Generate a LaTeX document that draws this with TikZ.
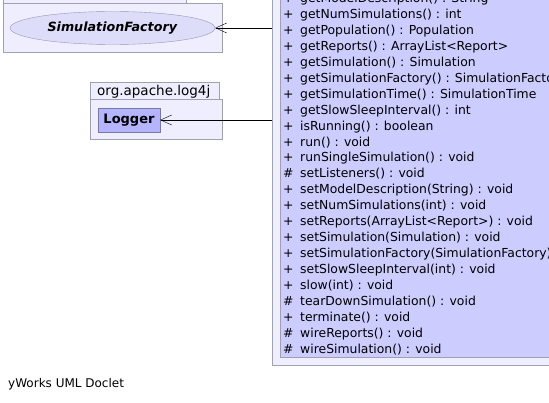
\documentclass[tikz,border=0pt]{standalone}
\usepackage{fontspec}
\setmainfont{DejaVu Sans}
\usetikzlibrary{
        arrows.meta,
        positioning,
        shapes.geometric
    }
\definecolor{pkgfill}{RGB}{238,238,255}
\definecolor{pkgline}{RGB}{160,160,176}
\definecolor{classfill}{RGB}{204,204,255}
\definecolor{ellfill}{RGB}{221,221,250}
\definecolor{ellline}{RGB}{150,150,180}
\definecolor{loggerfill}{RGB}{180,180,255}
\definecolor{loggerline}{RGB}{120,120,160}
\tikzset{>={Straight Barb[length=11pt,width=10pt]}}
\tikzset{pkg/.style={draw=pkgline,fill=pkgfill}}

\begin{document}
\begin{tikzpicture}[x=1pt,y=-1pt]
            \tikzstyle{every node}+=[inner sep=0pt,font=\fontsize{12.4}{14}\selectfont]
            \useasboundingbox [fill=white] (0,0) rectangle (549,403);
            % package holding the factory
            \draw [pkg] (3,-10) rectangle (186,3);
            \draw [pkg] (3,3) rectangle (222,52);
            \node [ellipse,draw=ellline,fill=ellfill,minimum width=205pt,minimum height=33pt,font=\fontsize{12.7}{14}\selectfont] (factory) at (112.5,28) {\textbf{\textit{SimulationFactory}}};
            % org.apache.log4j
            \draw [pkg] (90,82) rectangle (219,99);
            \node [anchor=base west,font=\fontsize{13.5}{15}\selectfont] (logpkg) at (97,96) {org.apache.log4j};
            \draw [pkg] (90,99) rectangle (222,139);
            \node [draw=loggerline,fill=loggerfill,minimum width=62pt,minimum height=24pt,font=\fontsize{13}{15}\selectfont] (logger) at (129,120) {\textbf{Logger}};
            % the simulation class
            \draw [pkg] (272,-10) rectangle (560,365);
            \draw [draw=pkgline,fill=classfill] (280,-10) rectangle (560,357);
            \foreach \v/\m [count=\i from 0] in {
                +/getModelDescription() : String,
                +/getNumSimulations() : int,
                +/getPopulation() : Population,
                +/getReports() : ArrayList<Report>,
                +/getSimulation() : Simulation,
                +/getSimulationFactory() : SimulationFactory,
                +/getSimulationTime() : SimulationTime,
                +/getSlowSleepInterval() : int,
                +/isRunning() : boolean,
                +/run() : void,
                +/runSingleSimulation() : void,
                \#/setListeners() : void,
                +/setModelDescription(String) : void,
                +/setNumSimulations(int) : void,
                +/setReports(ArrayList<Report>) : void,
                +/setSimulation(Simulation) : void,
                +/setSimulationFactory(SimulationFactory) : void,
                +/setSlowSleepInterval(int) : void,
                +/slow(int) : void,
                \#/tearDownSimulation() : void,
                +/terminate() : void,
                \#/wireReports() : void,
                \#/wireSimulation() : void}
            {
                \node [anchor=base west] (vis\i) at (283,2.5+15.95*\i) {\v};
                \node [anchor=base west] (member\i) at (300,2.5+15.95*\i) {\m};
            }
            \coordinate (simA) at (272,28);
            \coordinate (simB) at (272,120);
            \draw [->] (simA) -- (factory.east);
            \draw [->] (simB) -- (logger.east);
            \node [anchor=base west,font=\fontsize{12}{14}\selectfont] (doclet) at (8,388) {yWorks UML Doclet};
        \end{tikzpicture}
\end{document}
